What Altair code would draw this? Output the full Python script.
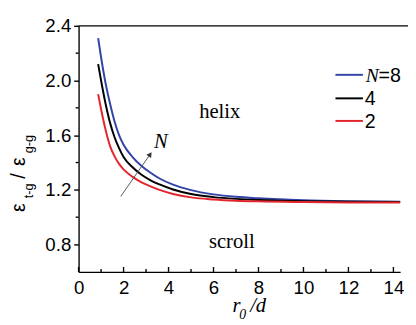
import altair as alt
import pandas as pd

# ---- data ----
r_vals = [0.87, 1.0, 1.2, 1.4, 1.6, 1.8, 2.0, 2.4, 2.8, 3.2, 3.6, 4.2, 5.0, 6.0, 7.0, 8.0, 10.0, 12.0, 14.3]
n8 = [2.31, 2.17, 1.98, 1.83, 1.70, 1.60, 1.53, 1.44, 1.375, 1.325, 1.283, 1.238, 1.198, 1.167, 1.149, 1.138, 1.124, 1.117, 1.113]
n4 = [2.12, 2.00, 1.83, 1.69, 1.585, 1.505, 1.44, 1.365, 1.31, 1.27, 1.24, 1.203, 1.17, 1.147, 1.134, 1.126, 1.117, 1.113, 1.111]
n2 = [1.90, 1.79, 1.64, 1.52, 1.445, 1.39, 1.35, 1.295, 1.255, 1.225, 1.20, 1.17, 1.145, 1.13, 1.121, 1.116, 1.111, 1.108, 1.107]
series_names = ["8", "4", "2"]
series_colors = ["#3344a8", "#000000", "#e3262e"]
x_major = [0, 2, 4, 6, 8, 10, 12, 14]
x_minor = [1, 3, 5, 7, 9, 11, 13]
y_major = [0.8, 1.2, 1.6, 2.0, 2.4]
y_minor = [1.0, 1.4, 1.8, 2.2]

W, H = 328, 251
AX = 1.4

rows = []
for name, vals in zip(series_names, [n8, n4, n2]):
    for r, v in zip(r_vals, vals):
        rows.append({"r": r, "v": v, "N": name})
df = pd.DataFrame(rows)

xscale = alt.Scale(domain=[0, 14.3], nice=False, zero=False)
yscale = alt.Scale(domain=[0.6, 2.4], nice=False, zero=False)

lines = alt.Chart(df).mark_line(strokeWidth=2, interpolate="monotone").encode(
    x=alt.X("r:Q", scale=xscale, axis=alt.Axis(values=x_major, format="d", ticks=False,
                                               labelPadding=7, title=None, grid=False,
                                               domainColor="black", labelFlush=False)),
    y=alt.Y("v:Q", scale=yscale, axis=alt.Axis(values=y_major, format=".1f", tickSize=5,
                                               tickColor="black", tickWidth=AX, labelPadding=3,
                                               title=None, grid=False, domainColor="black")),
    color=alt.Color("N:N", scale=alt.Scale(domain=series_names, range=series_colors), legend=None),
)

# ticks
xmaj = alt.Chart(pd.DataFrame({"t": x_major})).mark_rule(color="black", strokeWidth=AX).encode(
    x=alt.X("t:Q", scale=xscale), y=alt.value(H), y2=alt.value(H - 5))
xmin = alt.Chart(pd.DataFrame({"t": x_minor})).mark_rule(color="black", strokeWidth=AX).encode(
    x=alt.X("t:Q", scale=xscale), y=alt.value(H), y2=alt.value(H - 3))
ymin = alt.Chart(pd.DataFrame({"t": y_minor})).mark_rule(color="black", strokeWidth=AX).encode(
    y=alt.Y("t:Q", scale=yscale), x=alt.value(0), x2=alt.value(-3))
top = alt.Chart(pd.DataFrame({"a": [0]})).mark_rule(color="black", strokeWidth=AX).encode(
    x=alt.value(0), x2=alt.value(W + 8), y=alt.value(0))


def txt(s, x, y, size=20, font="Liberation Sans", style="normal", align="left",
        baseline="alphabetic", angle=0, color="black"):
    props = dict(fontSize=size, font=font, fontStyle=style, align=align,
                 baseline=baseline, color=color)
    if angle:
        props["angle"] = angle
    return alt.Chart(pd.DataFrame({"t": [s]})).mark_text(**props).encode(
        x=alt.value(x), y=alt.value(y), text="t:N")


texts = [
    txt("helix", 144, 94, 21, "Liberation Serif", align="center"),
    txt("scroll", 133, 227, 21, "Liberation Serif"),
    txt("N", 77, 125, 21, "Liberation Serif", "italic"),
    # x title r0/d
    txt("r", 157, 292, 21, "Liberation Serif", "italic"),
    txt("0", 164, 299, 14, "Liberation Serif", "italic"),
    txt("/d", 175, 292, 21, "Liberation Serif", "italic"),
    # y title
    txt("ε", -61, 190, 20, angle=270, baseline="middle"),
    txt("t-g", -50, 176, 13, angle=270, baseline="middle"),
    txt("/", -61, 156, 20, angle=270, baseline="middle"),
    txt("ε", -61, 143, 20, angle=270, baseline="middle"),
    txt("g-g", -50, 130, 13, angle=270, baseline="middle"),
    # legend texts
    txt("N", 293, 51, 20, "Liberation Serif", "italic", baseline="middle"),
    txt("=8", 306, 51, 20, baseline="middle"),
    txt("4", 292, 75, 20, baseline="middle"),
    txt("2", 292, 98, 20, baseline="middle"),
]

leg_y = [50, 74, 97]
legend_lines = [
    alt.Chart(pd.DataFrame({"a": [0]})).mark_rule(color=c, strokeWidth=2).encode(
        x=alt.value(262), x2=alt.value(290), y=alt.value(yy))
    for c, yy in zip(series_colors, leg_y)
]

arrow = alt.Chart(pd.DataFrame({"a": [0]})).mark_rule(color="#555555", strokeWidth=1).encode(
    x=alt.value(43), y=alt.value(174), x2=alt.value(73), y2=alt.value(131))
head = alt.Chart(pd.DataFrame({"a": [0]})).mark_point(
    shape="triangle-up", filled=True, size=35, angle=35, color="#333333", opacity=1).encode(
    x=alt.value(73), y=alt.value(131))

chart = alt.layer(lines, xmaj, xmin, ymin, top, arrow, head, *legend_lines, *texts).properties(
    width=W, height=H,
    autosize=alt.AutoSizeParams(type="none"),
    padding={"left": 72, "top": 15, "right": 8, "bottom": 51},
).configure_view(stroke=None).configure_axis(
    labelFont="Liberation Sans", labelFontSize=19, labelColor="black", domainWidth=AX,
    domainColor="black"
)

chart.save("out.html", embed_options={"renderer": "svg", "actions": False})
